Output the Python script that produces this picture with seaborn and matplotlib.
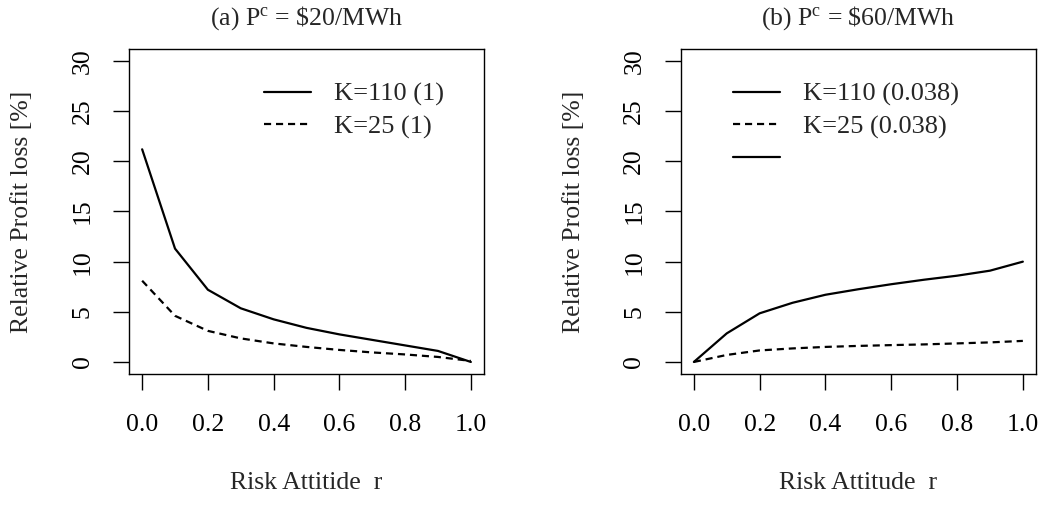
import numpy as np
import pandas as pd
import matplotlib
matplotlib.use("Agg")
import matplotlib.pyplot as plt
import seaborn as sns
from matplotlib.lines import Line2D

# ---- data ----
r = [0.0, 0.1, 0.2, 0.3, 0.4, 0.5, 0.6, 0.7, 0.8, 0.9, 1.0]
a_k110 = [21.2, 11.3, 7.2, 5.35, 4.25, 3.4, 2.75, 2.2, 1.65, 1.1, 0.0]
a_k25 = [8.1, 4.6, 3.1, 2.35, 1.85, 1.5, 1.2, 0.95, 0.75, 0.5, 0.1]
b_k110 = [0.0, 2.85, 4.85, 5.9, 6.7, 7.25, 7.75, 8.2, 8.6, 9.1, 10.0]
b_k25 = [0.0, 0.7, 1.15, 1.35, 1.5, 1.6, 1.68, 1.75, 1.85, 1.95, 2.1]
titles = [r"(a) P$^{\mathrm{c}}$ = \$20/MWh", r"(b) P$^{\mathrm{c}}$ = \$60/MWh"]
xlabels = ["Risk Attitide  r", "Risk Attitude  r"]
ylabel = "Relative Profit loss [%]"
legend_a = ["K=110 (1)", "K=25 (1)"]
legend_b = ["K=110 (0.038)", "K=25 (0.038)", ""]
xticks = [0.0, 0.2, 0.4, 0.6, 0.8, 1.0]
yticks = [0, 5, 10, 15, 20, 25, 30]

sns.set_style("ticks")
plt.rcParams['font.family'] = ['Liberation Serif', 'DejaVu Serif']
plt.rcParams['mathtext.fontset'] = 'custom'
plt.rcParams['mathtext.rm'] = 'Liberation Serif'
plt.rcParams['mathtext.it'] = 'Liberation Serif:italic'

FS = 18.5
LFS = 19
W, H = 1049, 505
fig = plt.figure(figsize=(W / 100, H / 100), dpi=100)
ax_a = fig.add_axes([129 / W, (H - 374) / H, 355 / W, 325 / H])
ax_b = fig.add_axes([680.7 / W, (H - 374) / H, 355.3 / W, 325 / H])

dash = (0, (3.2, 2.2))
LW = 1.6

panels = [
    (ax_a, a_k110, a_k25, legend_a, 0.380),
    (ax_b, b_k110, b_k25, legend_b, 0.147),
]
for i, (ax, k110, k25, leg, lx) in enumerate(panels):
    df = pd.DataFrame({"r": r, "k110": k110, "k25": k25})
    sns.lineplot(data=df, x="r", y="k110", ax=ax, color="black", lw=LW)
    sns.lineplot(data=df, x="r", y="k25", ax=ax, color="black", lw=LW, linestyle=dash)
    ax.set_xlim(-0.04, 1.04)
    ax.set_ylim(-1.2, 31.2)
    ax.set_xticks(xticks)
    ax.set_xticklabels([f"{v:.1f}" for v in xticks])
    ax.set_yticks(yticks)
    ax.set_yticklabels([str(v) for v in yticks], rotation=90, va="center")
    ax.tick_params(axis="both", direction="out", length=11.5, width=1.0,
                   color="black", labelsize=FS, labelcolor="black")
    ax.tick_params(axis="x", pad=17)
    ax.tick_params(axis="y", pad=14)
    for s in ax.spines.values():
        s.set_visible(True)
        s.set_color("black")
        s.set_linewidth(1.0)
    ax.set_xlabel(xlabels[i], fontsize=FS, va="center")
    ax.xaxis.set_label_coords(0.5, -0.335)
    ax.set_ylabel(ylabel, fontsize=FS, va="center")
    ax.yaxis.set_label_coords(-0.301, 0.5)
    ax.set_title(titles[i], fontsize=FS, y=1.095, va="center", pad=0)
    handles = [Line2D([], [], color="black", lw=LW),
               Line2D([], [], color="black", lw=LW, linestyle=dash)]
    if len(leg) == 3:
        handles.append(Line2D([], [], color="black", lw=LW))
    ax.legend(handles, leg, loc="upper left", bbox_to_anchor=(lx, 0.897),
              frameon=False, fontsize=LFS, handlelength=1.8, handletextpad=0.85,
              labelspacing=0.33, borderpad=0, borderaxespad=0)

fig.savefig("out.png", dpi=100)
